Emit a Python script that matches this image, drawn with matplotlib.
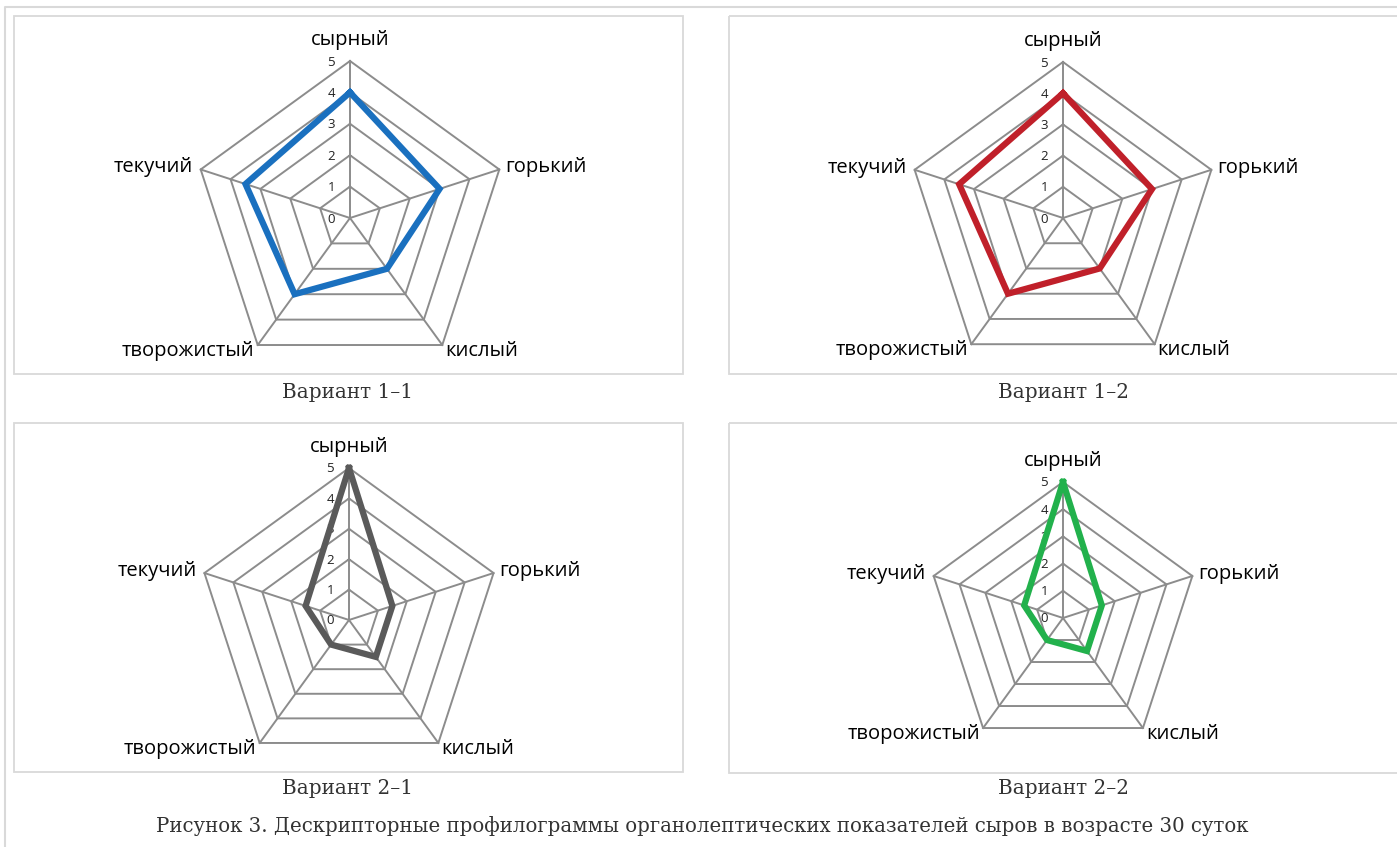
import numpy as np
import matplotlib
matplotlib.use('Agg')
import matplotlib.pyplot as plt
from matplotlib.patches import Rectangle

# ---------------------------------------------------------------------------
# Data: descriptor scores (0..5) per sample
# ---------------------------------------------------------------------------
CATEGORIES = ['сырный', 'горький', 'кислый', 'творожистый', 'текучий']
RINGS = [0, 1, 2, 3, 4, 5]

VARIANTS = ['Вариант 1–1', 'Вариант 1–2', 'Вариант 2–1', 'Вариант 2–2']
SCORES_1_1 = [4, 3, 2, 3, 3.5]
SCORES_1_2 = [4, 3, 2, 3, 3.5]
SCORES_2_1 = [5, 1.5, 1.5, 1, 1.5]
SCORES_2_2 = [5, 1.5, 1.5, 1, 1.5]
SCORES = [SCORES_1_1, SCORES_1_2, SCORES_2_1, SCORES_2_2]

CAPTION = ('Рисунок 3. Дескрипторные профилограммы органолептических '
           'показателей сыров в возрасте 30 суток')

# ---------------------------------------------------------------------------
# Style
# ---------------------------------------------------------------------------
LINE_COLORS = ['#1a70bf', '#c0202a', '#5a5a5a', '#22b14c']
GRID_C   = '#8c8c8c'
BOX_C    = '#d9d9d9'
TXT_C    = '#333333'
SANS     = 'Open Sans'
SERIF    = 'DejaVu Serif'

W, H = 1397, 847

# panel layout in pixels: (centre x, centre y, radius)
RADAR_GEOM = [(350, 218, 157), (1063, 218, 156), (349, 620, 152), (1063, 618, 136)]
BOXES = [(14, 16, 683, 374), (729, 16, 1400, 374),
         (14, 423, 683, 772), (729, 423, 1400, 773)]
VARIANT_POS = [(348, 393), (1063, 393), (348, 789), (1063, 789)]

# label offsets (pixels) from each outer vertex
LABEL_OFFS = [((0, 21), 'center'), ((6, 2), 'left'), ((3, -6), 'left'),
              ((-3, -6), 'right'), ((-8, 2), 'right')]

fig = plt.figure(figsize=(W / 100, H / 100), dpi=100)
fig.patch.set_facecolor('white')

# background layer in pixel coordinates for frames and captions
bg = fig.add_axes([0, 0, 1, 1])
bg.set_xlim(0, W)
bg.set_ylim(H, 0)
bg.axis('off')
bg.plot([5, 5, W + 5], [H + 5, 7, 7], color=BOX_C, lw=1.5)
for x0, y0, x1, y1 in BOXES:
    bg.add_patch(Rectangle((x0, y0), x1 - x0, y1 - y0, fill=False,
                           edgecolor=BOX_C, lw=1.3))
for (x, y), name in zip(VARIANT_POS, VARIANTS):
    bg.text(x, y, name, ha='center', va='center', fontsize=14.4,
            family=SERIF, color=TXT_C)
bg.text(702, 826, CAPTION, ha='center', va='center', fontsize=14.2,
        family=SERIF, color=TXT_C)

n = len(CATEGORIES)
theta = np.arange(n) * 2 * np.pi / n
theta_c = np.append(theta, theta[0])

for (cx, cy, r), vals, color in zip(RADAR_GEOM, SCORES, LINE_COLORS):
    ax = fig.add_axes([(cx - r) / W, (H - cy - r) / H, 2 * r / W, 2 * r / H],
                      projection='polar')
    ax.set_theta_zero_location('N')
    ax.set_theta_direction(-1)
    ax.set_ylim(0, RINGS[-1])
    ax.axis('off')

    # pentagon grid + spokes
    for ring in RINGS[1:]:
        ax.plot(theta_c, [ring] * (n + 1), color=GRID_C, lw=1.4, clip_on=False)
    for t in theta:
        ax.plot([t, t], [0, RINGS[-1]], color=GRID_C, lw=1.4, clip_on=False)

    # value labels along the top spoke
    for ring in RINGS:
        ax.annotate(str(ring), xy=(0, ring), xytext=(-15, -1),
                    textcoords='offset pixels', ha='right', va='center',
                    fontsize=9.5, family=SANS, color='#222222')

    # descriptor names
    for t, name, (off, ha) in zip(theta, CATEGORIES, LABEL_OFFS):
        ax.annotate(name, xy=(t, RINGS[-1]), xytext=off,
                    textcoords='offset pixels', ha=ha, va='center',
                    fontsize=14.5, family=SANS, color='black',
                    annotation_clip=False)

    vals_c = list(vals) + [vals[0]]
    ax.plot(theta_c, vals_c, color=color, lw=4.5, solid_joinstyle='miter',
            clip_on=False, zorder=5)

fig.savefig('out.png', dpi=100, facecolor='white')
